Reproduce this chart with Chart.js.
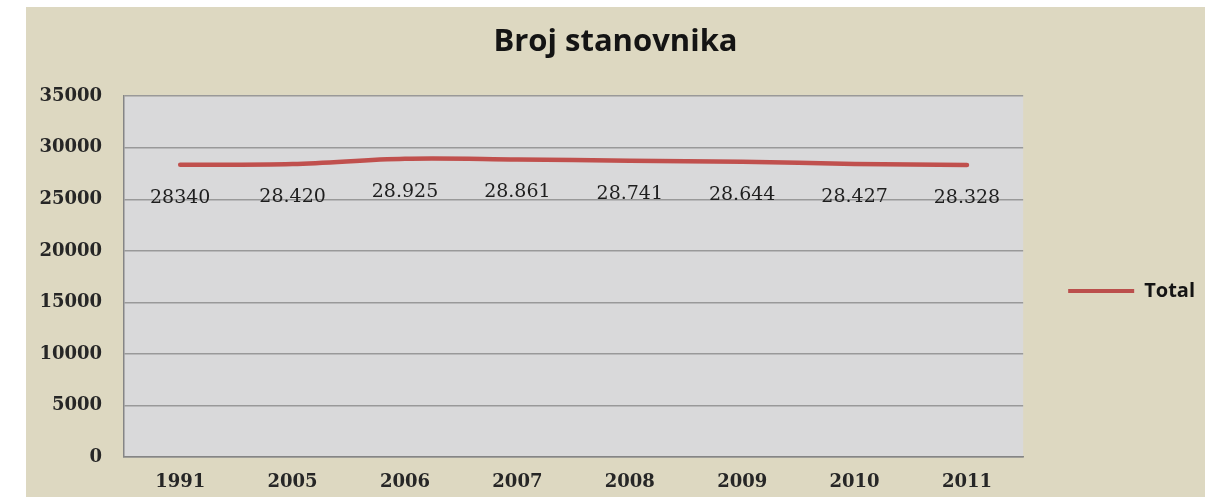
<!DOCTYPE html>
<html>
<head>
<meta charset="utf-8">
<script src="https://cdn.jsdelivr.net/npm/chart.js@4.4.1/dist/chart.umd.min.js"></script>
<style>
    html, body { margin: 0; padding: 0; background: #ffffff; }
    #wrap {
        position: absolute;
        left: 26px; top: 7px;
        width: 1179px; height: 490px;
        background: #ddd8c1;
    }
</style>
</head>
<body>
<div id="wrap"><canvas id="chartPop" width="1179" height="490"></canvas></div>
<script>
const godine = ['1991', '2005', '2006', '2007', '2008', '2009', '2010', '2011'];
const stanovnici = [28340, 28420, 28925, 28861, 28741, 28644, 28427, 28328];
const oznake = ['28340', '28.420', '28.925', '28.861', '28.741', '28.644', '28.427', '28.328'];
const yTicks = [0, 5000, 10000, 15000, 20000, 25000, 30000, 35000];

const RED = '#c0504d';

// siva pozadina za područje grafa
const plotBg = {
    id: 'plotBg',
    beforeDraw(chart) {
        const { ctx, chartArea: a } = chart;
        ctx.save();
        ctx.fillStyle = '#d9d9da';
        ctx.fillRect(a.left, a.top, a.right - a.left, a.bottom - a.top);
        ctx.restore();
    }
};

// brojke ispod linije
const valueLabels = {
    id: 'valueLabels',
    afterDatasetsDraw(chart) {
        const { ctx } = chart;
        const meta = chart.getDatasetMeta(0);
        ctx.save();
        ctx.font = '19px "DejaVu Serif"';
        ctx.fillStyle = '#1e1e1e';
        ctx.textAlign = 'center';
        ctx.textBaseline = 'middle';
        meta.data.forEach((pt, i) => {
            ctx.fillText(oznake[i], pt.x, pt.y + 33);
        });
        ctx.restore();
    }
};

new Chart(document.getElementById('chartPop'), {
    type: 'line',
    data: {
        labels: godine,
        datasets: [{
            label: 'Total',
            data: stanovnici,
            borderColor: RED,
            backgroundColor: RED,
            borderWidth: 4.5,
            borderCapStyle: 'round',
            tension: 0.35,
            pointRadius: 0,
            fill: false
        }]
    },
    options: {
        responsive: false,
        animation: false,
        layout: { padding: { left: 0, right: 0, top: 0, bottom: 0 } },
        plugins: {
            title: {
                display: true,
                text: 'Broj stanovnika',
                color: '#141414',
                font: { family: 'Open Sans', size: 31, weight: 'bold' },
                padding: { top: 17, bottom: 35 }
            },
            legend: {
                position: 'right',
                // prazan naslov legende samo je spušta prema sredini grafa
                title: { display: true, text: ' ', font: { size: 10 }, padding: 33 },
                labels: {
                    color: '#141414',
                    font: { family: 'Open Sans', size: 20, weight: 'bold' },
                    boxWidth: 66,
                    boxHeight: 4,
                    padding: 45,
                    generateLabels(chart) {
                        return Chart.defaults.plugins.legend.labels.generateLabels(chart)
                            .map(l => ({ ...l, lineWidth: 0, fillStyle: '#bb4f4c' }));
                    }
                }
            },
            tooltip: { enabled: false }
        },
        scales: {
            x: {
                offset: true,
                afterFit(s) { s.height = 40; },
                grid: { display: false, drawTicks: false },
                border: { display: true, color: '#858585', width: 1.5 },
                ticks: {
                    color: '#262626',
                    padding: 15,
                    font: { family: 'DejaVu Serif', size: 18, weight: 'bold' }
                }
            },
            y: {
                min: 0,
                max: 35000,
                afterFit(s) { s.width = 98; },
                afterBuildTicks(s) { s.ticks = yTicks.map(v => ({ value: v })); },
                grid: { color: '#999999', lineWidth: 1.5, drawTicks: false },
                border: { display: true, color: '#858585', width: 1.5 },
                ticks: {
                    color: '#262626',
                    padding: 22,
                    font: { family: 'DejaVu Serif', size: 18, weight: 'bold' },
                    callback: v => String(v)
                }
            }
        }
    },
    plugins: [plotBg, valueLabels]
});
</script>
</body>
</html>
